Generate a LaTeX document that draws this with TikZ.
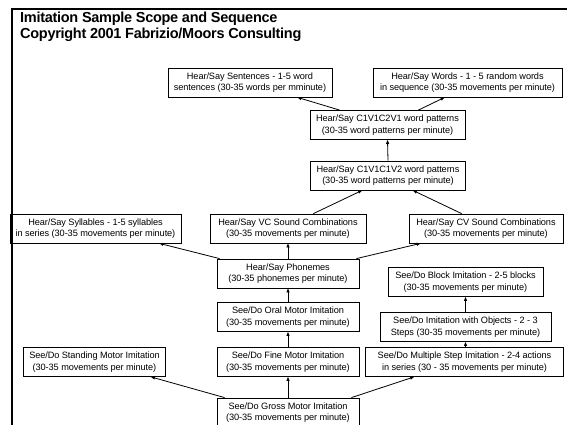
\documentclass[tikz,border=0pt]{standalone}
\usepackage{fontspec}
\setmainfont{Liberation Sans}
\newfontfamily\boxfont[LetterSpace=-1]{Liberation Sans}
\newfontfamily\titlefont[LetterSpace=-2]{Liberation Sans}
\usetikzlibrary{arrows.meta}
\begin{document}
\begin{tikzpicture}[x=1pt,y=-1pt,
  bx/.style={draw=black, line width=0.8pt, fill=white, align=center, inner sep=0pt,
    font=\boxfont\fontsize{9.2}{11.5}\selectfont, minimum height=29pt},
  arr/.style={line width=0.8pt, -{Triangle[length=4pt,width=3pt]}},
  ttl/.style={anchor=base west, font=\titlefont\bfseries\fontsize{14.5}{16}\selectfont, inner sep=0pt},
  frame/.style={line width=2.8pt}]
\useasboundingbox (0,0) rectangle (567,425);
\clip (0,0) rectangle (567,425);
% title
\node[ttl] (t1) at (20,23) {Imitation Sample Scope and Sequence};
\node[ttl] (t2) at (20,38.5) {Copyright 2001 Fabrizio/Moors Consulting};
% boxes
\node[bx, minimum width=164pt] (sent) at (250,82.5) {Hear/Say Sentences - 1-5 word\\sentences (30-35 words per mminute)};
\node[bx, minimum width=189pt] (words) at (467.5,82.5) {Hear/Say Words - 1 - 5 random words\\in sequence (30-35 movements per minute)};
\node[bx, minimum width=155pt] (ctwo) at (387.5,125) {Hear/Say C1V1C2V1 word patterns\\(30-35 word patterns per minute)};
\node[bx, minimum width=155pt] (cone) at (388,175.5) {Hear/Say C1V1C1V2 word patterns\\(30-35 word patterns per minute)};
\node[bx, minimum width=171pt] (syll) at (95.5,228.5) {Hear/Say Syllables - 1-5 syllables\\in series (30-35 movements per minute)};
\node[bx, minimum width=156pt] (vc) at (288,228.5) {Hear/Say VC Sound Combinations\\(30-35 movements per minute)};
\node[bx, minimum width=154pt] (cv) at (486,228.5) {Hear/Say CV Sound Combinations\\(30-35 movements per minute)};
\node[bx, minimum width=142pt] (phon) at (288,273.5) {Hear/Say Phonemes\\(30-35 phonemes per minute)};
\node[bx, minimum width=155pt] (block) at (465.5,282) {See/Do Block Imitation - 2-5 blocks\\(30-35 movements per minute)};
\node[bx, minimum width=142pt] (oral) at (288,317) {See/Do Oral Motor Imitation\\(30-35 movements per minute)};
\node[bx, minimum width=171pt] (obj) at (465.5,327) {See/Do Imitation with Objects - 2 - 3\\Steps (30-35 movements per minute)};
\node[bx, minimum width=142pt] (stand) at (94.5,362) {See/Do Standing Motor Imitation\\(30-35 movements per minute)};
\node[bx, minimum width=142pt] (fine) at (288,362) {See/Do Fine Motor Imitation\\(30-35 movements per minute)};
\node[bx, minimum width=198pt] (mult) at (464.5,362) {See/Do Multiple Step Imitation - 2-4 actions\\in series (30 - 35 movements per minute)};
\node[bx, minimum width=142pt] (gross) at (288,412.5) {See/Do Gross Motor Imitation\\(30-35 movements per minute)};
% arrows
\draw[arr] ([xshift=8pt]gross.north west) -- ([xshift=-15pt]stand.south east);
\draw[arr] (gross.north) -- (fine.south);
\draw[arr] ([xshift=-8pt]gross.north east) -- ([xshift=49pt]mult.south west);
\draw[arr] (fine.north) -- (oral.south);
\draw[arr] (oral.north) -- (phon.south);
\draw[arr] ([xshift=3pt]phon.north west) -- ([xshift=-22pt]syll.south east);
\draw[arr] (phon.north) -- (vc.south);
\draw[arr] ([xshift=-3pt]phon.north east) -- ([xshift=12pt]cv.south west);
\draw[arr] (mult.north -| obj.north) -- (obj.south);
\draw[arr] (obj.north) -- (block.south);
\draw[arr] ([xshift=-53pt]vc.north east) -- ([xshift=52pt]cone.south west);
\draw[arr] ([xshift=53pt]cv.north west) -- ([xshift=-53pt]cone.south east);
\draw[arr] (cone.north) -- (ctwo.south);
\draw[arr] ([xshift=30pt]ctwo.north west) -- ([xshift=-35pt]sent.south east);
\draw[arr] ([xshift=-47pt]ctwo.north east) -- ([xshift=72pt]words.south west);
% frame
\coordinate (fa) at (12,425);
\coordinate (fb) at (12,9);
\coordinate (fc) at (567,9);
\draw[frame] (fa) -- (fb) -- (fc);
\end{tikzpicture}
\end{document}
